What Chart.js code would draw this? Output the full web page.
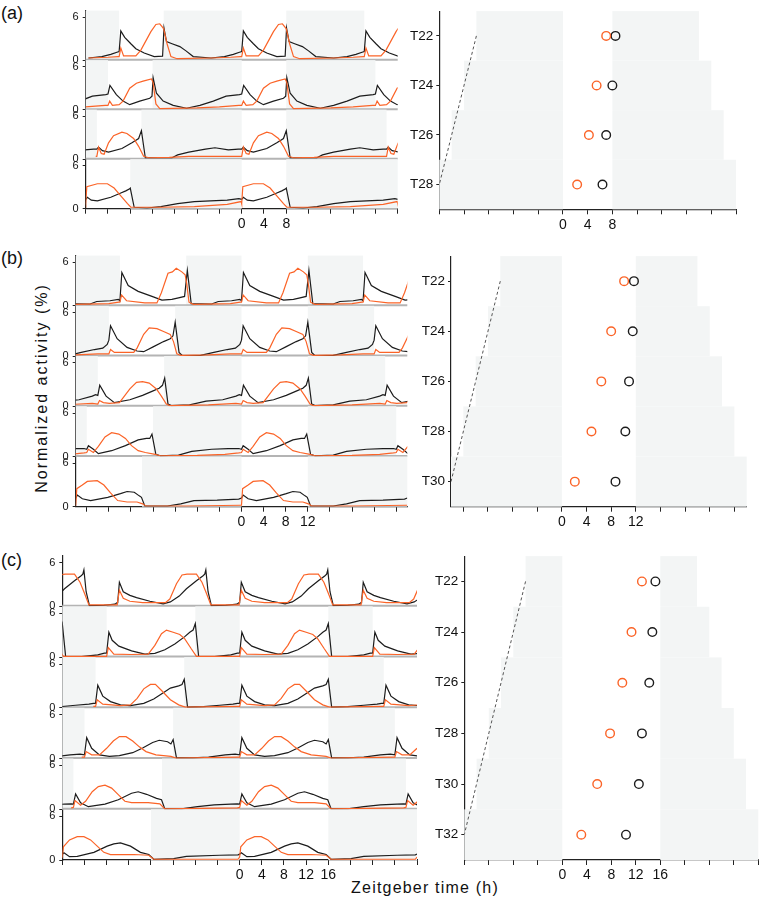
<!DOCTYPE html>
<html><head><meta charset="utf-8">
<script src="https://cdn.jsdelivr.net/npm/chart.js@4/dist/chart.umd.min.js"></script>
<style>
body{margin:0;background:#fff;}
#wrap{position:relative;width:764px;height:906px;overflow:hidden;font-family:"Liberation Sans",Arial,sans-serif;color:#111;background:#fff;}
canvas{position:absolute;}
.lbl{position:absolute;white-space:nowrap;line-height:1;}
</style></head><body><div id="wrap">
<div class="lbl" style="left:1px;top:4px;font-size:18px">(a)</div>
<div class="lbl" style="left:1px;top:249px;font-size:18px">(b)</div>
<div class="lbl" style="left:1px;top:551px;font-size:18px">(c)</div>
<div class="lbl" style="left:42px;top:388px;font-size:16px;letter-spacing:2px;transform:translate(-50%,-50%) rotate(-90deg);">Normalized activity (%)</div>
<div class="lbl" style="left:425px;top:888px;font-size:16px;letter-spacing:1.2px;transform:translate(-50%,-50%);">Zeitgeber time (h)</div>
<canvas id="aL"></canvas><canvas id="aR"></canvas>
<canvas id="bL"></canvas><canvas id="bR"></canvas>
<canvas id="cL"></canvas><canvas id="cR"></canvas>
</div>
<script>
// ---------- Panel (a): LD with 8 h light ----------
const periodsA = [22, 24, 26, 28];
const lightA = 8;
const shadedA = [true, true, true, true];
const xLabelsA = [0, 4, 8];
// one cycle per row: [ZT, activity]
const blackA22 = [[0,1.2],[0.3,4.1],[1,3.2],[2.1,2.3],[3,1.6],[4.5,1.0],[6.3,0.5],[7.8,0.55],[8.05,4.5],[8.5,2.6],[9.5,2.3],[10.9,1.9],[12,1.3],[13.3,0.5],[16.5,0.3],[18.9,0.5],[20.5,0.8],[21.6,1.1]];
const orangeA22 = [[0,0.5],[0.3,1.7],[0.8,0.6],[3,0.6],[3.9,1.4],[4.8,2.7],[5.7,4.0],[6.6,5.0],[7.3,5.1],[7.7,4.7],[8.0,4.4],[8.6,2.3],[9.3,0.5],[10.4,0.2],[16.5,0.3],[20,0.4],[21.8,0.5]];
const blackA24 = [[0,2.2],[0.35,3.4],[1.5,2.1],[2.7,1.2],[3.9,0.7],[5.7,1.2],[7.5,1.6],[7.9,1.9],[8.1,4.5],[8.7,2.3],[9.9,1.2],[11.7,0.6],[14.1,0.2],[16.5,0.6],[18.9,1.2],[21.2,1.9],[23.6,2.1]];
const orangeA24 = [[0,0.6],[0.3,1.2],[0.8,0.6],[2,0.7],[2.7,1.2],[3.9,3.0],[5.1,3.7],[6.3,4.0],[7.8,4.3],[8.1,3.8],[8.6,0.8],[9.3,0.15],[16,0.25],[20,0.4],[23.5,0.6]];
const blackA26 = [[0,1.4],[0.3,1.7],[1,1.2],[2.1,1.0],[4.5,1.5],[6.3,2.3],[7.5,2.9],[8.0,4.0],[8.7,0.2],[13.5,0.2],[14.5,0.6],[16.5,1.0],[19.5,1.4],[21.2,1.6],[23.6,1.3],[25.4,1.4]];
const orangeA26 = [[0,0.4],[0.3,1.7],[0.8,0.8],[1.3,0.7],[2.1,2.3],[3.0,3.3],[4.5,3.8],[5.4,3.6],[6.6,2.9],[7.5,1.8],[8.4,0.4],[9.3,0.2],[13,0.25],[16.5,0.4],[25.8,0.4]];
const blackA28 = [[0,1.3],[0.3,1.6],[1,1.2],[2.1,1.1],[4.5,1.6],[6.3,2.2],[7.2,2.5],[7.9,2.8],[8.0,2.9],[8.7,0.2],[11,0.1],[13.5,0.3],[16.5,0.7],[19.5,1.0],[22.4,1.1],[25.4,1.2],[27.5,1.4]];
const orangeA28 = [[0,0.7],[0.2,3.1],[2.1,3.5],[3.9,3.5],[5.1,2.9],[6.3,1.8],[7.5,0.7],[8.1,0.2],[13.5,0.2],[19.5,0.3],[25.4,0.6],[27.9,1.0]];
const phaseTA = [22, 24, 26, 28];
const phaseOrangeA = [7.0, 5.45, 4.2, 2.3];
const phaseBlackA = [8.5, 8.0, 7.0, 6.4];

// ---------- Panel (b): LD with 12 h light ----------
const periodsB = [22, 24, 26, 28, 30];
const lightB = 12;
const shadedB = [true, true, true, true, true];
const xLabelsB = [0, 4, 8, 12];
const blackB22 = [[0,0.7],[0.35,4.6],[1.5,2.8],[3.3,2.0],[5.8,1.3],[7.6,0.8],[9.4,0.9],[10.6,1.1],[11.7,1.3],[12.2,4.9],[12.9,0.3],[16.6,0.25],[17.8,0.6],[20.2,0.7],[21.7,0.9]];
const orangeB22 = [[0,0.5],[0.3,1.5],[1.2,0.7],[4.5,0.4],[6.7,0.4],[7.5,1.8],[8.7,4.5],[9.5,4.7],[10.2,5.2],[11.2,4.7],[11.8,4.3],[12.1,3.0],[12.5,0.5],[13.3,0.2],[20,0.3],[21.8,0.5]];
const blackB24 = [[0,2.2],[0.3,4.2],[1.5,2.4],[3.3,1.2],[5.1,0.7],[6.3,0.6],[8.1,1.3],[9.9,2.0],[11.1,2.4],[11.6,2.8],[12.0,4.7],[12.7,0.5],[13.3,0.05],[16.6,0.1],[19.0,0.5],[21.4,0.9],[22.9,1.1],[23.7,1.6]];
const orangeB24 = [[0,0.3],[0.3,0.9],[1,0.5],[4.5,0.5],[5.1,1.1],[6.3,3.0],[7.3,3.9],[8.7,3.8],[9.9,3.4],[11.1,3.0],[11.7,2.0],[12.3,0.3],[13,0.1],[18,0.15],[22,0.3]];
const blackB26 = [[0,1.5],[0.35,2.9],[1.5,1.4],[3.0,0.5],[5.8,0.9],[8.1,1.5],[9.9,2.1],[11.1,2.5],[11.7,2.9],[12.1,3.9],[12.7,0.3],[13.3,0.1],[16.6,0.2],[19.6,0.7],[22.6,0.9],[25.0,1.4],[25.6,1.6]];
const orangeB26 = [[0,0.3],[0.3,0.8],[1,0.5],[2.1,0.4],[3.9,0.5],[4.5,1.1],[5.8,2.4],[7.0,3.3],[8.1,3.4],[9.3,3.2],[10.6,2.4],[11.5,1.4],[12.4,0.3],[13,0.1],[20,0.2],[25,0.4]];
const blackB28 = [[0,1.0],[0.3,1.5],[1.2,1.0],[2.1,0.4],[4.5,0.8],[7.0,1.5],[9.3,2.3],[10.8,2.5],[11.4,2.5],[11.8,3.1],[12.5,0.3],[13.3,0.1],[16.6,0.2],[19,0.7],[22.6,1.0],[25.6,1.1],[27.5,1.1]];
const orangeB28 = [[0,0.55],[0.3,1.0],[1.2,0.55],[2.1,1.4],[3.3,2.7],[4.5,3.3],[5.8,3.1],[7.0,2.5],[8.1,1.5],[9.3,0.8],[10.6,0.55],[12.4,0.3],[13.3,0.1],[20,0.15],[25,0.3],[27.5,0.5]];
const blackB30 = [[0,1.2],[0.3,1.6],[1.2,1.1],[2.7,0.85],[5.8,1.3],[8.1,1.8],[9.3,2.1],[10.6,2.0],[11.5,1.5],[11.9,1.3],[12.5,0.1],[16.6,0.1],[19,0.4],[21.4,0.85],[25.6,0.9],[29.5,1.05]];
const orangeB30 = [[0,0.2],[0.2,2.5],[1.2,3.0],[2.1,3.5],[3.9,3.6],[5.1,3.0],[6.3,1.9],[7.6,0.85],[9.3,0.65],[11.1,0.65],[12.1,0.4],[12.7,0.1],[20,0.1],[29.8,0.2]];
const phaseTB = [22, 24, 26, 28, 30];
const phaseOrangeB = [10.1, 8.0, 6.4, 4.8, 2.1];
const phaseBlackB = [11.7, 11.5, 10.9, 10.3, 8.7];

// ---------- Panel (c): LD with 16 h light ----------
const periodsC = [22, 24, 26, 28, 30, 32];
const lightC = 16;
const shadedC = [false, true, true, true, true, true];
const xLabelsC = [0, 4, 8, 12, 16];
const blackC22 = [[0,0.6],[0.3,3.3],[1.0,2.0],[2.2,1.5],[3.4,1.2],[5.8,0.7],[8.2,0.35],[9.5,0.6],[11.1,1.4],[12.4,2.4],[14.2,3.5],[15.4,4.2],[15.7,4.4],[15.9,5.0],[16.3,2.0],[16.9,0.1],[19.5,0.15],[21.5,0.3],[21.9,0.5]];
const orangeC22 = [[0,0.2],[0.3,2.2],[1.0,1.1],[2.2,0.7],[4.5,0.5],[8.6,0.5],[9.4,1.0],[10.6,3.1],[11.6,4.3],[12.5,4.4],[14.2,4.4],[15.2,3.3],[16.0,1.8],[16.8,0.2],[21.9,0.2]];
const blackC24 = [[0,0.55],[0.4,3.4],[1.0,2.3],[2.2,1.5],[4.5,0.85],[6.9,0.4],[8.7,0.5],[10.5,1.0],[12.3,1.8],[14.1,2.8],[15.0,3.4],[15.6,3.7],[16.0,4.6],[16.6,0.1],[19.5,0.05],[22.4,0.3],[23.6,0.55]];
const orangeC24 = [[0,0.1],[0.3,1.3],[1.3,0.4],[4.5,0.35],[7.5,0.4],[8.7,1.6],[9.9,3.2],[10.8,3.7],[12.0,3.4],[13.2,3.1],[14.1,2.5],[15.3,1.1],[16.2,0.1],[23.6,0.1]];
const blackC26 = [[0,0.6],[0.4,3.1],[1.3,1.6],[2.7,0.85],[4.5,0.4],[6.3,0.3],[8.7,0.6],[10.5,1.2],[12.3,2.1],[13.5,2.7],[15.0,3.0],[15.6,3.2],[16.0,3.9],[16.6,0.1],[19.5,0.15],[22.4,0.35],[24.8,0.5],[25.6,0.6]];
const orangeC26 = [[0,0.2],[0.3,1.1],[1.3,0.5],[4.5,0.3],[6.3,0.4],[7.5,1.3],[8.7,2.6],[9.9,3.2],[10.8,3.2],[12.0,2.3],[13.5,1.1],[15.0,0.4],[16.2,0.1],[25.6,0.2]];
const blackC28 = [[0,0.5],[0.4,2.85],[1.3,1.4],[2.7,0.5],[4.5,0.3],[6.3,0.4],[8.7,0.8],[10.5,1.45],[12.3,2.2],[13.5,2.5],[15.0,2.3],[15.6,2.0],[16.0,2.6],[16.6,0.1],[19.5,0.1],[22.4,0.2],[25.4,0.5],[27.2,0.6]];
const orangeC28 = [[0,0.2],[0.3,0.95],[1.3,0.5],[2.7,0.5],[4.0,1.4],[5.2,2.4],[6.3,3.0],[7.5,3.0],[8.7,2.4],[9.9,1.6],[11.1,0.95],[12.9,0.5],[15.6,0.3],[16.5,0.05],[27.5,0.2]];
const blackC30 = [[0,0.7],[0.4,2.1],[1.3,0.9],[2.7,0.35],[5.7,0.7],[8.1,1.3],[10.5,2.2],[11.7,2.4],[13.2,2.05],[15.0,1.5],[15.9,1.3],[16.5,0.05],[19.5,0.05],[22.4,0.35],[25.4,0.6],[28.4,0.7],[29.6,0.75]];
const orangeC30 = [[0,0.25],[0.3,1.2],[1.3,0.55],[2.2,1.1],[3.4,2.4],[4.5,3.1],[5.7,3.3],[6.9,2.9],[8.1,2.0],[9.3,1.1],[10.5,0.9],[13.5,0.9],[15.6,0.75],[16.5,0.05],[29.6,0.2]];
const blackC32 = [[0,0.8],[0.3,1.0],[1.3,0.45],[2.7,0.5],[5.7,1.05],[8.1,1.9],[9.3,2.2],[10.5,2.35],[12.3,1.9],[14.1,1.05],[15.6,0.75],[16.5,0.1],[20.1,0.2],[22.4,0.5],[28.4,0.65],[31.7,0.7]];
const orangeC32 = [[0,0.4],[0.2,1.8],[1.3,2.75],[2.7,3.2],[3.9,3.2],[5.1,2.75],[6.3,1.9],[7.5,1.05],[8.7,0.75],[12.9,0.75],[15.6,0.65],[16.5,0.1],[31.7,0.1]];
const phaseTC = [22, 24, 26, 28, 30, 32];
const phaseOrangeC = [13.0, 11.3, 9.8, 7.8, 5.7, 3.1];
const phaseBlackC = [15.2, 14.7, 14.2, 13.0, 12.5, 10.4];

// ---------- styling ----------
const ORANGE = '#fb6428';
const BLACK = '#1c1c1c';
const SHADE = '#f3f5f5';
const AXIS = '#222';
const FONT = '"Liberation Sans", Arial, sans-serif';
Chart.defaults.font.family = FONT;
Chart.defaults.color = '#111';

function place(id, box) {
  const c = document.getElementById(id);
  c.width = box.width; c.height = box.height;
  c.style.left = box.left + 'px'; c.style.top = box.top + 'px';
  c.style.width = box.width + 'px'; c.style.height = box.height + 'px';
  return c;
}

// repeat one cycle over the visible range (double plot)
function doublePlot(cycle, T, xmin, xmax) {
  const pts = [];
  for (let k = Math.floor(xmin / T) - 1; k <= Math.ceil(xmax / T); k++) {
    for (const [t, v] of cycle) {
      const x = t + k * T;
      if (x >= xmin - T * 0.1 && x <= xmax + T * 0.1) pts.push({x: x, y: v});
    }
  }
  return pts;
}

function xTicks(start, max) {
  return s => { const t = []; for (let v = start; v <= max + 1e-9; v += 4) t.push({value: v}); s.ticks = t; };
}

function actogram(id, box, area, xmin, xmax, tickStart, periods, light, shaded, blacks, oranges, labels) {
  const c = place(id, box);
  const n = periods.length;
  const scales = {
    x: {
      type: 'linear', min: xmin, max: xmax, position: 'bottom',
      afterBuildTicks: xTicks(tickStart, xmax),
      ticks: {autoSkip: false, maxRotation: 0, color: '#111', font: {size: 14}, padding: 2,
        callback: v => labels.includes(v) ? String(v) : ''},
      grid: {display: true, drawOnChartArea: false, drawTicks: true, tickLength: 5, color: AXIS, lineWidth: 1},
      border: {display: true, color: AXIS, width: 1.2},
      afterFit: s => { s.height = box.top + box.height - area.bottom; }
    }
  };
  // defined bottom row first so the last one (row 0) ends up on top of the stack
  for (let r = n - 1; r >= 0; r--) {
    scales['y' + r] = {
      type: 'linear', position: 'left', stack: 'rows', stackWeight: 1, offset: false,
      min: 0, max: 6.95,
      afterBuildTicks: s => { s.ticks = [{value: 0}, {value: 6}]; },
      ticks: {color: '#111', font: {size: 11}, padding: 4, callback: v => String(v)},
      grid: {display: true, drawOnChartArea: false, drawTicks: true, tickLength: 3, color: AXIS, lineWidth: 1},
      border: {display: true, color: AXIS, width: 1.2},
      afterFit: s => { s.width = area.left - box.left; }
    };
  }
  const datasets = [];
  for (let r = 0; r < n; r++) {
    datasets.push({data: doublePlot(oranges[r], periods[r], xmin, xmax), yAxisID: 'y' + r, borderColor: ORANGE, borderWidth: 1.2});
    datasets.push({data: doublePlot(blacks[r], periods[r], xmin, xmax), yAxisID: 'y' + r, borderColor: BLACK, borderWidth: 1.2});
  }
  const shadePlugin = {
    id: 'shade' + id,
    beforeDatasetsDraw(chart) {
      const ctx = chart.ctx, xs = chart.scales.x;
      ctx.save();
      for (let r = 0; r < n; r++) {
        const ys = chart.scales['y' + r];
        const T = periods[r];
        if (shaded[r]) {
          ctx.fillStyle = SHADE;
          for (let k = Math.floor(xmin / T) - 1; k <= Math.ceil(xmax / T); k++) {
            const a = Math.max(xmin, k * T + light), b = Math.min(xmax, (k + 1) * T);
            if (b > a) {
              const pa = xs.getPixelForValue(a), pb = xs.getPixelForValue(b);
              ctx.fillRect(pa, ys.top, pb - pa, ys.bottom - ys.top);
            }
          }
        }
        if (r < n - 1) {
          ctx.strokeStyle = '#b4b4b4'; ctx.lineWidth = 2;
          const y0 = ys.getPixelForValue(0) - 0.5;
          ctx.beginPath(); ctx.moveTo(chart.chartArea.left, y0); ctx.lineTo(chart.chartArea.right, y0); ctx.stroke();
        }
      }
      ctx.restore();
    }
  };
  return new Chart(c, {
    type: 'line',
    data: {datasets},
    options: {
      responsive: false, animation: false, devicePixelRatio: 1,
      parsing: false,
      layout: {padding: {left: 0, top: area.top - box.top, right: box.left + box.width - area.right, bottom: 0}},
      plugins: {legend: {display: false}, tooltip: {enabled: false}},
      elements: {point: {radius: 0}, line: {tension: 0}},
      scales
    },
    plugins: [shadePlugin]
  });
}

function phasePlot(id, box, area, xmin, xmax, tickStart, Ts, light, orange, black, labels) {
  const c = place(id, box);
  const ymin = Ts[0] - 1, ymax = Ts[Ts.length - 1] + 1;
  const Tlast = Ts[Ts.length - 1];
  const shadePlugin = {
    id: 'shade' + id,
    beforeDatasetsDraw(chart) {
      const ctx = chart.ctx, xs = chart.scales.x, ys = chart.scales.y;
      ctx.save(); ctx.fillStyle = SHADE;
      for (const T of Ts) {
        const y1 = ys.getPixelForValue(T - 1), y2 = ys.getPixelForValue(T + 1);
        const segs = [[Math.max(xmin, -(T - light)), 0], [light, Math.min(xmax, T)]];
        for (const [a, b] of segs) {
          const pa = xs.getPixelForValue(a), pb = xs.getPixelForValue(b);
          ctx.fillRect(pa, Math.min(y1, y2), pb - pa, Math.abs(y2 - y1));
        }
      }
      ctx.restore();
    }
  };
  return new Chart(c, {
    type: 'scatter',
    data: {datasets: [
      {data: [{x: -(Ts[0] - light), y: Ts[0]}, {x: -(Tlast - light), y: Tlast}], showLine: true,
       borderColor: '#555', borderWidth: 1, borderDash: [3, 2.5], pointRadius: 0},
      {data: Ts.map((T, i) => ({x: orange[i], y: T})), pointStyle: 'circle', pointRadius: 4.3,
       pointBorderWidth: 1.4, borderColor: ORANGE, pointBorderColor: ORANGE, backgroundColor: 'rgba(0,0,0,0)', pointBackgroundColor: 'rgba(0,0,0,0)'},
      {data: Ts.map((T, i) => ({x: black[i], y: T})), pointStyle: 'circle', pointRadius: 4.3,
       pointBorderWidth: 1.4, borderColor: BLACK, pointBorderColor: BLACK, backgroundColor: 'rgba(0,0,0,0)', pointBackgroundColor: 'rgba(0,0,0,0)'}
    ]},
    options: {
      responsive: false, animation: false, devicePixelRatio: 1,
      layout: {padding: {left: 0, top: area.top - box.top, right: box.left + box.width - area.right, bottom: 0}},
      plugins: {legend: {display: false}, tooltip: {enabled: false}},
      scales: {
        x: {
          type: 'linear', min: xmin, max: xmax,
          afterBuildTicks: xTicks(tickStart, xmax),
          ticks: {autoSkip: false, maxRotation: 0, color: '#111', font: {size: 14}, padding: 2,
            callback: v => labels.includes(v) ? String(v) : ''},
          grid: {display: true, drawOnChartArea: false, drawTicks: true, tickLength: 5, color: AXIS, lineWidth: 1},
          border: {display: true, color: AXIS, width: 1.2},
          afterFit: s => { s.height = box.top + box.height - area.bottom; }
        },
        y: {
          type: 'linear', min: ymin, max: ymax, reverse: true,
          afterBuildTicks: s => { s.ticks = Ts.map(v => ({value: v})); },
          ticks: {color: '#111', font: {size: 13.5}, padding: 3, callback: v => 'T' + v},
          grid: {display: true, drawOnChartArea: false, drawTicks: true, tickLength: 3, color: AXIS, lineWidth: 1},
          border: {display: true, color: AXIS, width: 1.2},
          afterFit: s => { s.width = area.left - box.left; }
        }
      }
    },
    plugins: [shadePlugin]
  });
}

actogram('aL', {left: 30, top: 0, width: 380, height: 236}, {left: 85.7, top: 3.5, right: 397.7, bottom: 208.7},
  -28, 28, -28, periodsA, lightA, shadedA,
  [blackA22, blackA24, blackA26, blackA28], [orangeA22, orangeA24, orangeA26, orangeA28], xLabelsA);
phasePlot('aR', {left: 400, top: 0, width: 350, height: 236}, {left: 439.3, top: 4, right: 736, bottom: 209.3},
  -20, 28, -20, phaseTA, lightA, phaseOrangeA, phaseBlackA, xLabelsA);

actogram('bL', {left: 25, top: 245, width: 395, height: 285}, {left: 75.7, top: 254.7, right: 407.3, bottom: 506.7},
  -30, 30, -28, periodsB, lightB, shadedB,
  [blackB22, blackB24, blackB26, blackB28, blackB30], [orangeB22, orangeB24, orangeB26, orangeB28, orangeB30], xLabelsB);
phasePlot('bR', {left: 412, top: 245, width: 352, height: 285}, {left: 451, top: 254, right: 746.7, bottom: 506.7},
  -18, 30, -16, phaseTB, lightB, phaseOrangeB, phaseBlackB, xLabelsB);

actogram('cL', {left: 15, top: 545, width: 415, height: 338}, {left: 62.3, top: 554, right: 417, bottom: 860},
  -32, 32, -32, periodsC, lightC, shadedC,
  [blackC22, blackC24, blackC26, blackC28, blackC30, blackC32], [orangeC22, orangeC24, orangeC26, orangeC28, orangeC30, orangeC32], xLabelsC);
phasePlot('cR', {left: 425, top: 545, width: 339, height: 338}, {left: 464.3, top: 554, right: 760.3, bottom: 860},
  -16, 32, -16, phaseTC, lightC, phaseOrangeC, phaseBlackC, xLabelsC);
</script>
</body></html>
